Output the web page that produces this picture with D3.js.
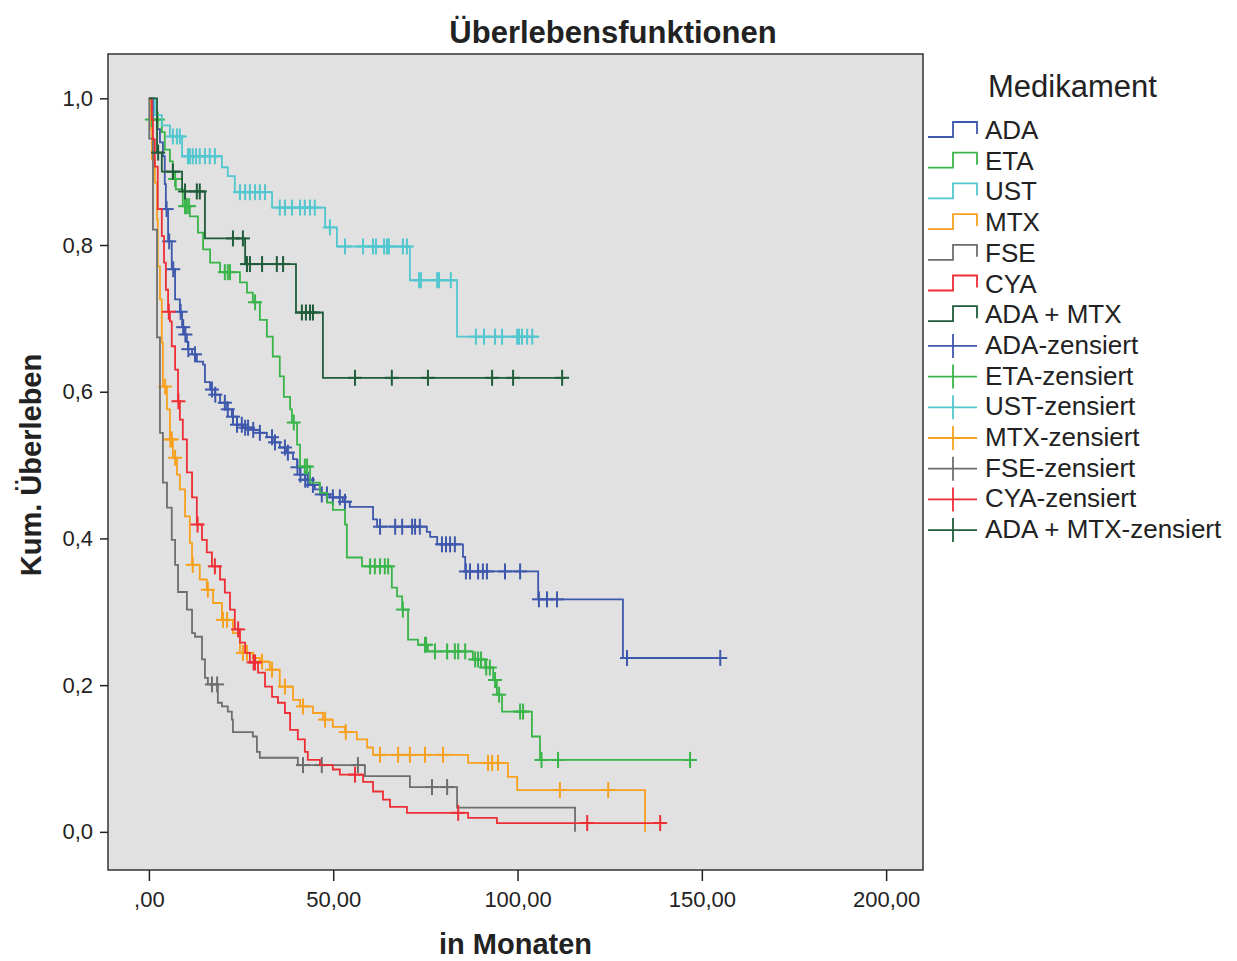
<!DOCTYPE html>
<html>
<head>
<meta charset="utf-8">
<script src="https://cdn.jsdelivr.net/npm/d3@7"></script>
<style>
  body { margin: 0; background: #fff; }
  text { font-family: "Liberation Sans", Arial, sans-serif; fill: #222; }
</style>
</head>
<body>
<div id="my_dataviz"></div>
<script>
// groups, colours, ticks
var groups = ["ADA", "ETA", "UST", "MTX", "FSE", "CYA", "ADA + MTX"];
var colors = ["#3e58ac", "#3ab54a", "#52c7cf", "#f8a11e", "#6e6e6e", "#ee2e35", "#1f5c3a"];
var xTicks = [0, 50, 100, 150, 200];
var xTickLabels = [",00", "50,00", "100,00", "150,00", "200,00"];
var yTicks = [0, 0.2, 0.4, 0.6, 0.8, 1.0];
var yTickLabels = ["0,0", "0,2", "0,4", "0,6", "0,8", "1,0"];

// steps: [month, survival after the drop]; cens: months of censored cases
var adaSteps = [[1.1,0.971],[2.2,0.958],[3.0,0.940],[3.8,0.921],[4.3,0.883],[4.6,0.849],[5.2,0.805],[6.2,0.767],
  [7.1,0.726],[8.4,0.709],[9.0,0.688],[9.8,0.678],[10.3,0.668],[10.6,0.658],[11.7,0.651],[13.0,0.641],[14.7,0.637],
  [15.2,0.613],[16.6,0.603],[17.9,0.596],[19.3,0.585],[21.2,0.576],[22.5,0.566],[23.9,0.555],[25.5,0.551],[28.2,0.548],
  [30.1,0.544],[32.0,0.538],[33.6,0.531],[35.5,0.524],[37.4,0.517],[39.1,0.508],[40.2,0.497],[41.0,0.487],[42.3,0.480],
  [43.7,0.473],[45.0,0.467],[46.4,0.460],[49.1,0.456],[52.6,0.450],[54.5,0.443],[60.8,0.426],[61.9,0.416],[75.4,0.409],
  [76.3,0.402],[78.2,0.392],[85.2,0.375],[85.8,0.355],[105.6,0.317],[128.6,0.237]];
var adaCens = [4.8,5.5,6.6,8.6,9.3,9.9,10.7,12.5,17.1,18.0,20.6,21.4,22.8,23.9,25.2,26.1,26.9,28.3,30.1,33.4,34.2,36.9,37.7,
  40.3,41.1,42.4,43.1,44.5,46.9,48.3,49.9,51.8,53.2,62.7,66.8,68.7,71.4,72.2,73.5,79.5,80.6,81.7,83.0,86.0,87.1,89.3,90.6,
  91.7,96.6,100.7,105.8,108.0,110.7,129.7,155.0];
var adaEnd = 156.5;

var etaSteps = [[0.3,0.981],[0.8,0.971],[3.5,0.954],[4.3,0.930],[5.7,0.914],[6.5,0.890],[7.3,0.876],[9.2,0.853],
  [11.1,0.839],[13.3,0.817],[14.7,0.794],[16.6,0.776],[19.3,0.763],[24.7,0.749],[26.6,0.735],[28.2,0.722],[30.1,0.698],
  [32.0,0.675],[33.6,0.648],[35.5,0.621],[36.6,0.593],[38.3,0.576],[38.8,0.558],[40.2,0.528],[41.0,0.498],[43.7,0.476],
  [46.4,0.462],[48.3,0.449],[49.9,0.439],[53.2,0.419],[53.7,0.374],[57.8,0.362],[65.9,0.333],[67.3,0.321],[68.7,0.303],
  [70.3,0.262],[73.0,0.255],[75.7,0.246],[87.9,0.235],[91.2,0.224],[93.4,0.207],[94.4,0.187],[95.8,0.164],
  [103.9,0.130],[106.1,0.098]];
var etaCens = [0.8,2.4,7.1,9.8,10.3,10.9,20.6,21.4,22.0,28.8,39.3,42.3,42.9,60.0,61.3,62.7,64.0,64.9,68.9,74.9,75.2,
  77.6,80.9,83.0,83.9,85.8,88.5,89.3,90.1,91.5,92.5,93.9,95.0,100.7,101.5,106.5,111.0,146.8];
var etaEnd = 147.8;

var ustSteps = [[1.6,0.977],[3.5,0.963],[5.7,0.948],[9.0,0.921],[19.8,0.906],[21.4,0.894],[23.3,0.872],[33.4,0.851],
  [47.8,0.824],[51.0,0.798],[70.8,0.752],[83.6,0.675]];
var ustCens = [6.5,7.6,8.4,10.6,11.1,11.9,12.8,13.8,15.2,16.5,17.9,24.7,26.1,27.4,28.8,30.1,31.5,35.5,36.9,38.8,41.0,
  42.3,43.7,45.0,49.1,53.2,58.1,60.8,61.6,63.8,64.6,65.1,68.9,70.0,73.3,73.8,78.2,78.7,81.9,88.7,90.9,93.9,95.8,99.9,
  100.4,101.2,102.6,104.0];
var ustEnd = 105.6;

var mtxSteps = [[0.3,0.958],[0.8,0.917],[1.6,0.885],[2.2,0.835],[2.4,0.771],[3.0,0.726],[3.5,0.667],[3.8,0.607],
  [4.9,0.576],[5.7,0.535],[6.5,0.510],[7.6,0.487],[8.4,0.467],[9.8,0.430],[11.1,0.394],[11.7,0.364],[13.8,0.344],
  [15.7,0.330],[17.4,0.312],[19.8,0.289],[22.8,0.271],[24.7,0.244],[28.2,0.237],[30.1,0.232],[32.8,0.221],[35.5,0.198],
  [39.1,0.180],[41.0,0.171],[44.5,0.162],[47.2,0.153],[49.9,0.143],[53.2,0.136],[56.4,0.126],[59.2,0.115],[60.8,0.105],
  [86.6,0.094],[97.4,0.075],[99.9,0.057],[134.6,0.0]];
var mtxCens = [4.4,5.8,6.2,7.1,11.9,16.0,20.1,21.2,25.5,26.6,30.7,33.4,36.9,41.8,47.8,53.4,62.7,67.6,70.8,74.9,79.8,
  92.0,93.1,94.7,111.5,124.6];
var mtxEnd = 134.6;

var fseSteps = [[0.1,0.945],[1.1,0.821],[2.2,0.674],[3.0,0.544],[3.8,0.476],[4.9,0.442],[6.2,0.398],[7.1,0.364],
  [7.9,0.327],[10.3,0.303],[11.7,0.271],[12.5,0.266],[14.4,0.235],[15.2,0.210],[16.0,0.201],[18.7,0.176],[19.8,0.171],
  [21.4,0.164],[22.5,0.153],[22.8,0.136],[28.2,0.130],[29.3,0.109],[30.1,0.101],[40.4,0.091],[58.6,0.076],[70.8,0.061],
  [83.6,0.033],[115.6,0.0]];
var fseCens = [17.1,18.5,41.8,46.9,56.7,76.8,80.9];
var fseEnd = 115.6;

var cyaSteps = [[0.8,0.971],[1.1,0.944],[1.6,0.907],[2.4,0.849],[3.5,0.812],[4.1,0.776],[4.6,0.739],[5.2,0.709],
  [5.7,0.696],[6.2,0.662],[7.1,0.630],[7.9,0.587],[8.4,0.562],[9.2,0.535],[10.3,0.490],[11.7,0.456],[13.0,0.419],
  [14.4,0.398],[15.7,0.381],[17.1,0.362],[19.3,0.344],[20.6,0.326],[22.0,0.303],[23.3,0.276],[24.7,0.258],[26.1,0.244],
  [27.4,0.231],[29.6,0.217],[31.5,0.198],[33.4,0.184],[35.0,0.176],[36.9,0.162],[38.3,0.139],[40.4,0.126],[42.3,0.109],
  [43.1,0.098],[46.4,0.091],[49.9,0.085],[51.8,0.078],[58.1,0.068],[60.8,0.055],[63.5,0.044],[65.4,0.034],[70.0,0.026],
  [86.6,0.019],[94.4,0.012]];
var cyaCens = [5.4,8.0,13.2,17.9,24.2,28.4,28.8,55.9,83.9,118.9,138.7];
var cyaEnd = 140.0;

var adaMtxSteps = [[2.2,0.926],[3.5,0.900],[9.0,0.873],[15.2,0.809],[26.1,0.774],[39.9,0.708],[47.2,0.619]];
var adaMtxCens = [2.5,6.5,9.8,13.0,13.8,22.8,25.5,26.6,27.4,30.7,34.7,36.4,41.5,42.6,43.7,44.5,55.9,65.9,75.7,
  93.1,98.8,112.1];
var adaMtxEnd = 112.9;

var allSteps = [adaSteps, etaSteps, ustSteps, mtxSteps, fseSteps, cyaSteps, adaMtxSteps];
var allCens = [adaCens, etaCens, ustCens, mtxCens, fseCens, cyaCens, adaMtxCens];
var allEnds = [adaEnd, etaEnd, ustEnd, mtxEnd, fseEnd, cyaEnd, adaMtxEnd];

var W = 1237, H = 961;
var plot = {left: 108, right: 923, top: 54, bottom: 870};

var svg = d3.select("#my_dataviz")
  .append("svg")
    .attr("width", W)
    .attr("height", H)
    .style("display", "block");

var x = d3.scaleLinear().domain([-11.1, 210]).range([plot.left, plot.right]);
var y = d3.scaleLinear().domain([-0.052, 1.0604]).range([plot.bottom, plot.top]);

// plot background
svg.append("rect")
  .attr("x", plot.left)
  .attr("y", plot.top)
  .attr("width", plot.right - plot.left)
  .attr("height", plot.bottom - plot.top)
  .attr("fill", "#e1e1e1")
  .attr("stroke", "#333")
  .attr("stroke-width", 1.5);

// axes
var yAxis = svg.append("g")
  .attr("transform", "translate(" + plot.left + ",0)")
  .call(d3.axisLeft(y).tickValues(yTicks).tickSize(8).tickPadding(7)
    .tickFormat(function(d, i) { return yTickLabels[i]; }));
var xAxis = svg.append("g")
  .attr("transform", "translate(0," + plot.bottom + ")")
  .call(d3.axisBottom(x).tickValues(xTicks).tickSize(11).tickPadding(10)
    .tickFormat(function(d, i) { return xTickLabels[i]; }));
[xAxis, yAxis].forEach(function(a) {
  a.select(".domain").remove();
  a.selectAll(".tick line").attr("stroke", "#222").attr("stroke-width", 1.5);
  a.selectAll(".tick text")
    .style("font-family", "'Liberation Sans', Arial, sans-serif")
    .style("font-size", "22px")
    .attr("fill", "#222");
});

function survAt(steps, t) {
  var s = 1;
  steps.forEach(function(d) { if (d[0] <= t) s = d[1]; });
  return s;
}

var stepLine = d3.line()
  .x(function(d) { return x(d[0]); })
  .y(function(d) { return y(d[1]); })
  .curve(d3.curveStepAfter);

groups.forEach(function(g, i) {
  var steps = allSteps[i];
  var pts = [[0, 1]].concat(steps);
  pts.push([allEnds[i], steps[steps.length - 1][1]]);
  var color = colors[i];

  svg.append("path")
    .datum(pts)
    .attr("fill", "none")
    .attr("stroke", color)
    .attr("stroke-width", 1.8)
    .attr("d", stepLine);

  // censored marks
  var marks = svg.append("g").selectAll("g")
    .data(allCens[i])
    .enter()
    .append("g")
      .attr("transform", function(d) { return "translate(" + x(d) + "," + y(survAt(steps, d)) + ")"; })
      .attr("stroke", color)
      .attr("stroke-width", 2);
  marks.append("line").attr("x1", -7).attr("x2", 7);
  marks.append("line").attr("y1", -8).attr("y2", 8);
});

// titles
svg.append("text")
  .attr("x", 613).attr("y", 43)
  .attr("text-anchor", "middle")
  .style("font-size", "31px").style("font-weight", "bold")
  .text("Überlebensfunktionen");
svg.append("text")
  .attr("x", (plot.left + plot.right) / 2).attr("y", 954)
  .attr("text-anchor", "middle")
  .style("font-size", "29px").style("font-weight", "bold")
  .text("in Monaten");
svg.append("text")
  .attr("transform", "translate(41,465) rotate(-90)")
  .attr("text-anchor", "middle")
  .style("font-size", "29px").style("font-weight", "bold")
  .text("Kum. Überleben");

// legend
var legend = svg.append("g");
legend.append("text")
  .attr("x", 988).attr("y", 97)
  .style("font-size", "31px")
  .text("Medikament");

var legendRows = groups.concat(groups.map(function(g) { return g + "-zensiert"; }));
legendRows.forEach(function(label, k) {
  var b = 139 + k * 30.7;
  var color = colors[k % groups.length];
  if (k < groups.length) {
    legend.append("path")
      .attr("d", "M928," + (b - 2) + "H953V" + (b - 17) + "H977V" + (b - 5))
      .attr("fill", "none")
      .attr("stroke", color)
      .attr("stroke-width", 1.8);
  } else {
    legend.append("line")
      .attr("x1", 928).attr("x2", 977).attr("y1", b - 8).attr("y2", b - 8)
      .attr("stroke", color).attr("stroke-width", 1.8);
    legend.append("line")
      .attr("x1", 953).attr("x2", 953).attr("y1", b - 20).attr("y2", b + 4)
      .attr("stroke", color).attr("stroke-width", 1.8);
  }
  legend.append("text")
    .attr("x", 985).attr("y", b)
    .style("font-size", "26px")
    .text(label);
});
</script>
</body>
</html>
